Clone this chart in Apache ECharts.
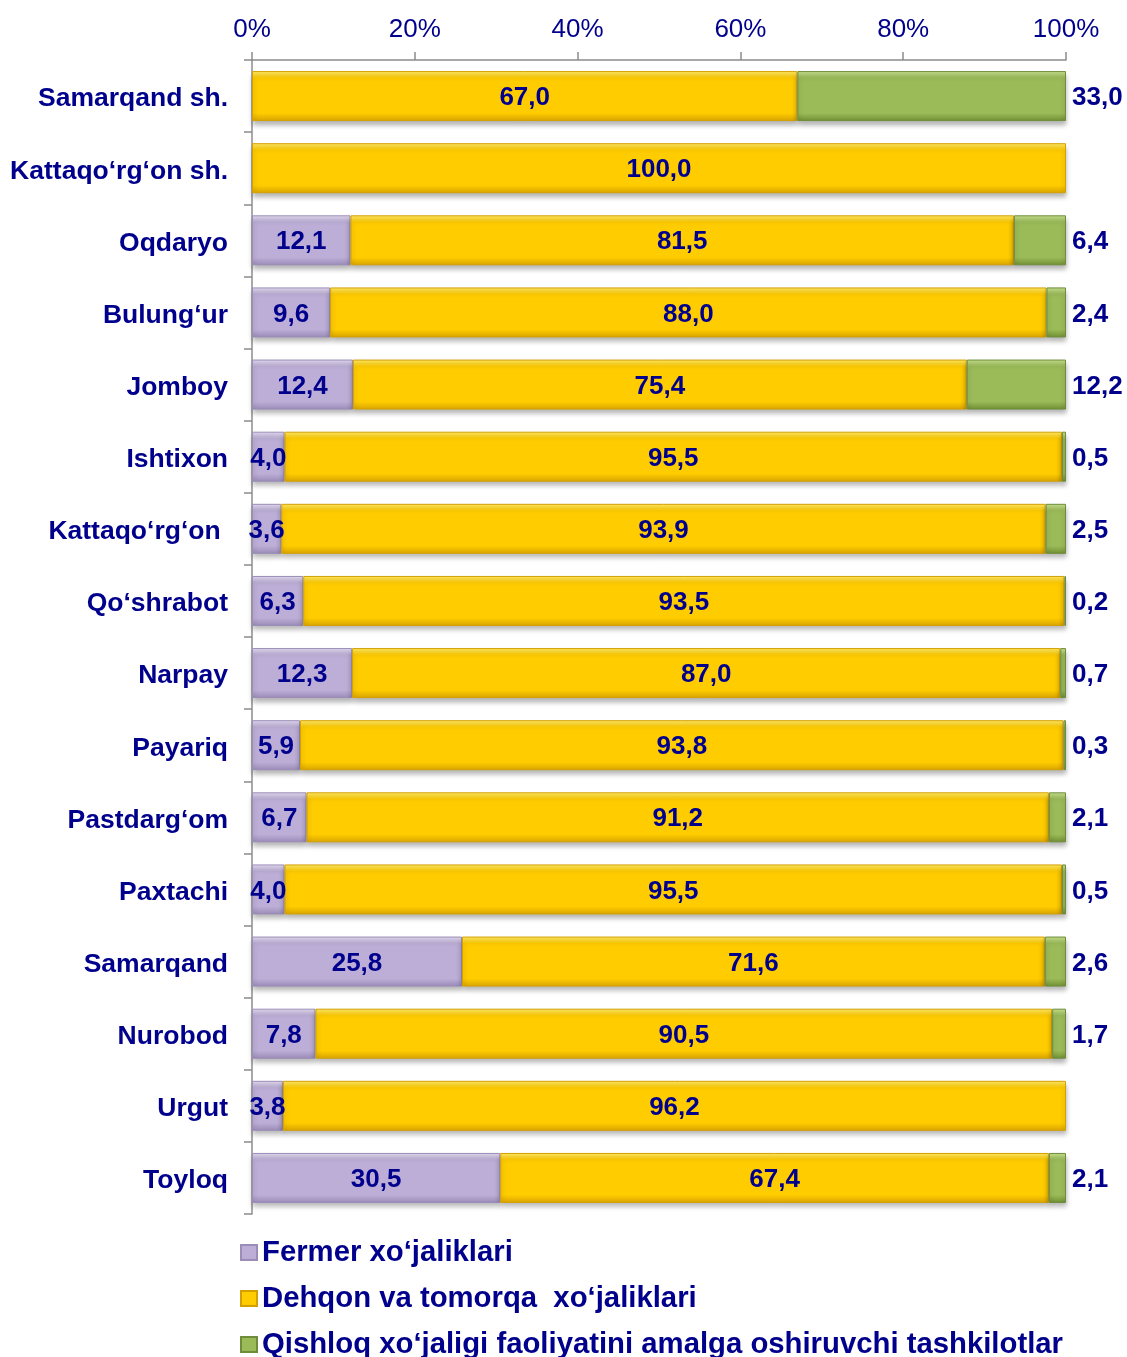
<!DOCTYPE html>
<html>
<head>
<meta charset="utf-8">
<script src="https://cdn.jsdelivr.net/npm/echarts@6/dist/echarts.min.js"></script>
<style>
html,body{margin:0;padding:0;background:#fff;}
#chart{width:1127px;height:1357px;}
</style>
</head>
<body>
<div id="chart"></div>
<script>
var categories = ['Samarqand sh.', 'Kattaqo‘rg‘on sh.', 'Oqdaryo', 'Bulung‘ur', 'Jomboy', 'Ishtixon',
	'Kattaqo‘rg‘on ', 'Qo‘shrabot', 'Narpay', 'Payariq', 'Pastdarg‘om', 'Paxtachi', 'Samarqand',
	'Nurobod', 'Urgut', 'Toyloq'];
var fermer = [null, null, 12.1, 9.6, 12.4, 4.0, 3.6, 6.3, 12.3, 5.9, 6.7, 4.0, 25.8, 7.8, 3.8, 30.5];
var dehqon = [67.0, 100.0, 81.5, 88.0, 75.4, 95.5, 93.9, 93.5, 87.0, 93.8, 91.2, 95.5, 71.6, 90.5, 96.2, 67.4];
var qishloq = [33.0, null, 6.4, 2.4, 12.2, 0.5, 2.5, 0.2, 0.7, 0.3, 2.1, 0.5, 2.6, 1.7, null, 2.1];
var seriesNames = ['Fermer xo‘jaliklari', 'Dehqon va tomorqa  xo‘jaliklari',
	'Qishloq xo‘jaligi faoliyatini amalga oshiruvchi tashkilotlar'];
var xTicks = [0, 20, 40, 60, 80, 100];

var textColor = '#00008C';
var font = 'Arial, "Liberation Sans", sans-serif';

function bevel(light, base, dark) {
	return new echarts.graphic.LinearGradient(0, 0, 0, 1, [
		{offset: 0, color: light},
		{offset: 0.14, color: base},
		{offset: 0.84, color: base},
		{offset: 1, color: dark}
	]);
}

function fmt(p) {
	if (p.value == null || p.value === '') return '';
	return p.value.toFixed(1).replace('.', ',');
}

var labelStyle = {
	show: true,
	color: textColor,
	fontSize: 26,
	fontWeight: 'bold',
	fontFamily: font,
	formatter: fmt
};

function makeSeries(name, data, colors, border, pos) {
	return {
		name: name,
		type: 'bar',
		stack: 'total',
		barWidth: 50,
		data: data,
		itemStyle: {
			color: bevel(colors[0], colors[1], colors[2]),
			borderColor: border,
			borderWidth: 1,
			shadowColor: 'rgba(0,0,0,0.3)',
			shadowBlur: 5,
			shadowOffsetY: 4
		},
		label: Object.assign({}, labelStyle, {position: pos, distance: 6, offset: [0, 2]}),
		emphasis: {disabled: true}
	};
}

var chart = echarts.init(document.getElementById('chart'));
var option = {
	animation: false,
	legend: {
		orient: 'vertical',
		left: 240,
		top: 1238,
		height: 130,
		padding: 0,
		icon: 'rect',
		itemWidth: 16,
		itemHeight: 15,
		itemGap: 17,
		data: seriesNames,
		textStyle: {color: textColor, fontSize: 29.3, fontWeight: 'bold', fontFamily: font}
	},
	grid: {left: 252, right: 61, top: 60, height: 1154, containLabel: false},
	xAxis: {
		type: 'value',
		position: 'top',
		min: xTicks[0],
		max: xTicks[xTicks.length - 1],
		interval: 20,
		axisLine: {show: true, lineStyle: {color: '#8c8c8c', width: 1.5}},
		axisTick: {show: true, length: 8, lineStyle: {color: '#8c8c8c', width: 1.5}},
		splitLine: {show: false},
		axisLabel: {
			color: textColor, fontSize: 26, fontFamily: font, margin: 17,
			formatter: '{value}%'
		}
	},
	yAxis: {
		type: 'category',
		inverse: true,
		data: categories,
		axisLine: {show: true, lineStyle: {color: '#8c8c8c', width: 1.5}},
		axisTick: {show: true, length: 8, lineStyle: {color: '#8c8c8c', width: 1.5}},
		axisLabel: {
			color: textColor, fontSize: 26.5, fontWeight: 'bold', fontFamily: font, margin: 24,
			verticalAlign: 'top', lineHeight: 6
		}
	},
	series: [
		makeSeries(seriesNames[0], fermer, ['#E4DCF0', '#BCAED6', '#9A8BB8'], '#9B8DB8', 'inside'),
		makeSeries(seriesNames[1], dehqon, ['#FFEA6A', '#FFCC00', '#D9A400'], '#D4A000', 'inside'),
		makeSeries(seriesNames[2], qishloq, ['#C8E28F', '#9BBB59', '#6F8F33'], '#6F8C3A', 'right')
	]
};
chart.setOption(option);
</script>
</body>
</html>
